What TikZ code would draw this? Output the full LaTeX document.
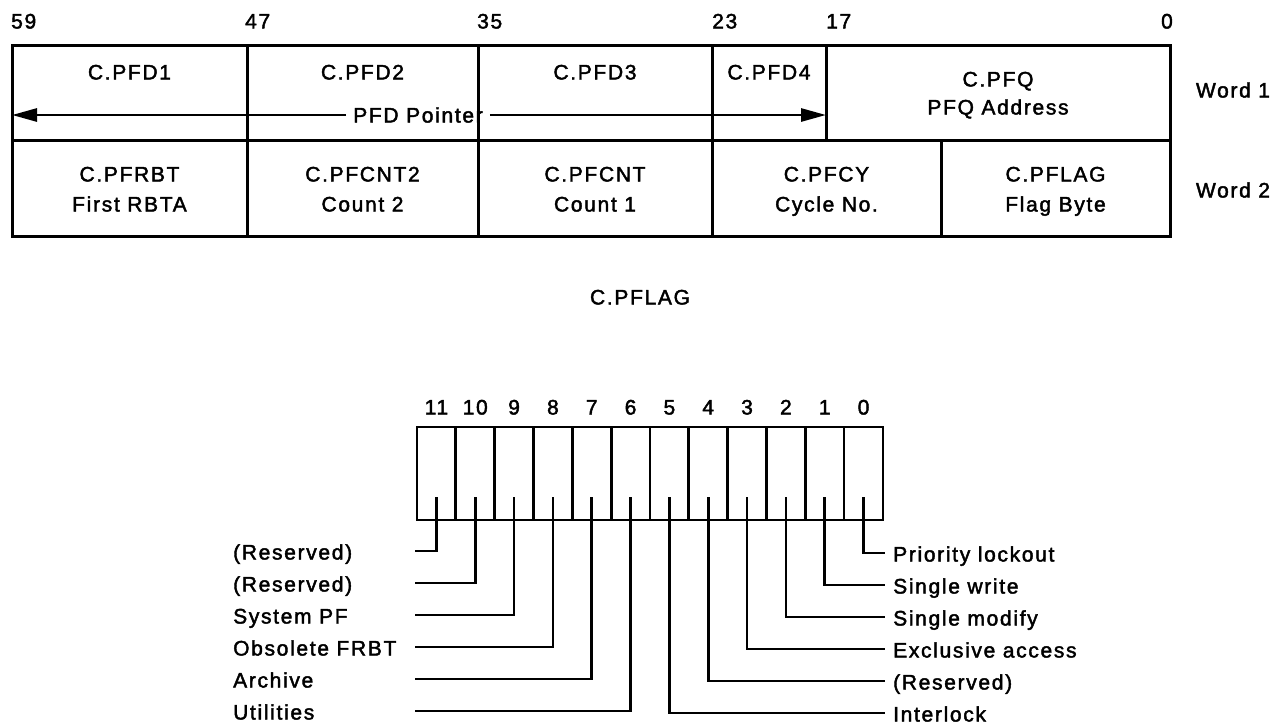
\documentclass[tikz,border=0pt]{standalone}
\usepackage{fontspec}
\setmainfont{Liberation Sans}[LetterSpace=8,FakeBold=2]
\usetikzlibrary{arrows.meta,calc}
\begin{document}
\begin{tikzpicture}[x=1pt,y=-1pt,
  txt/.style={inner sep=0pt, text height=15pt, text depth=0pt, font=\fontsize{21}{25}\selectfont},
  cellbox/.style={draw, line width=3pt, inner sep=0pt},
  bitcell/.style={draw, line width=2.7pt, inner sep=0pt, minimum width=38.83pt, minimum height=93pt},
  conn/.style={line width=2.6pt},
  ptr/.style={line width=2.8pt, -{Triangle[length=25pt,width=13pt]}}
]
\useasboundingbox (0,0) rectangle (1281,724);
% ---- Word 1 cells
\node[cellbox, minimum width=235pt, minimum height=95pt] (d1) at (129.5,92.5) {};
\node[cellbox, minimum width=231pt, minimum height=95pt] (d2) at (362.5,92.5) {};
\node[cellbox, minimum width=234pt, minimum height=95pt] (d3) at (595,92.5) {};
\node[cellbox, minimum width=114pt, minimum height=95pt] (d4) at (769,92.5) {};
\node[cellbox, minimum width=344pt, minimum height=95pt] (pfq) at (998,92.5) {};
% ---- Word 2 cells
\node[cellbox, minimum width=235pt, minimum height=96pt] (w1) at (129.5,188) {};
\node[cellbox, minimum width=231pt, minimum height=96pt] (w2) at (362.5,188) {};
\node[cellbox, minimum width=234pt, minimum height=96pt] (w3) at (595,188) {};
\node[cellbox, minimum width=229pt, minimum height=96pt] (w4) at (826.5,188) {};
\node[cellbox, minimum width=229pt, minimum height=96pt] (w5) at (1055.5,188) {};
% ---- bit numbers
\node[txt, anchor=west] (c59) at (11,21) {59};
\node[txt, anchor=west] (c47) at (245,21) {47};
\node[txt, anchor=west] (c35) at (477,21) {35};
\node[txt, anchor=west] (c23) at (712,21) {23};
\node[txt, anchor=west] (c17) at (826,21) {17};
\node[txt, anchor=east] (c0) at (1173,21) {0};
% ---- texts word 1
\node[txt] (t1) at (d1.center |- 0,72) {C.PFD1};
\node[txt] (t2) at (d2.center |- 0,72) {C.PFD2};
\node[txt] (t3) at (d3.center |- 0,72) {C.PFD3};
\node[txt] (t4) at (d4.center |- 0,72) {C.PFD4};
\node[txt] (tq1) at (pfq.center |- 0,79) {C.PFQ};
\node[txt] (tq2) at (pfq.center |- 0,107) {PFQ Address};
% ---- pointer
\node[txt, inner xsep=7pt] (pp) at (418,115) {PFD Pointer};
\coordinate (pl) at (12,115);
\coordinate (pr) at (826,115);
\draw[ptr] (pp.west) -- (pl);
\draw[ptr] (pp.east) -- (pr);
% ---- texts word 2
\node[txt] at (w1.center |- 0,174) {C.PFRBT};
\node[txt] at (w1.center |- 0,204) {First RBTA};
\node[txt] at (w2.center |- 0,174) {C.PFCNT2};
\node[txt] at (w2.center |- 0,204) {Count 2};
\node[txt] at (w3.center |- 0,174) {C.PFCNT};
\node[txt] at (w3.center |- 0,204) {Count 1};
\node[txt] at (w4.center |- 0,174) {C.PFCY};
\node[txt] at (w4.center |- 0,204) {Cycle No.};
\node[txt] at (w5.center |- 0,174) {C.PFLAG};
\node[txt] at (w5.center |- 0,204) {Flag Byte};
% ---- word labels
\node[txt] (wl1) at (1233,90) {Word 1};
\node[txt] (wl2) at (1233,190) {Word 2};
% ---- C.PFLAG title
\node[txt] (title) at (640,297) {C.PFLAG};
% ---- flag bits
\foreach \k in {0,...,11}{
  \pgfmathtruncatemacro{\bit}{11-\k}
  \node[bitcell] (b\bit) at ({417+38.83*(\k+0.5)},473.5) {};
  \node[txt] (n\bit) at (b\bit.center |- 0,407) {\bit};
  \coordinate (t\bit) at (b\bit.center |- 0,497);
}
% left labels
\foreach \bit/\lab [count=\i from 0] in {11/(Reserved),10/(Reserved),9/System PF,8/Obsolete FRBT,7/Archive,6/Utilities}{
  \coordinate (e\bit) at (415,{551+32*\i});
  \node[txt, anchor=west] (l\bit) at (233,{552+32*\i}) {\lab};
  \draw[conn] (t\bit) |- (e\bit);
}
% right labels
\foreach \bit/\lab [count=\i from 0] in {0/Priority lockout,1/Single write,2/Single modify,3/Exclusive access,4/(Reserved),5/Interlock}{
  \coordinate (e\bit) at (885,{553+32*\i});
  \node[txt, anchor=west] (l\bit) at (893,{554+32*\i}) {\lab};
  \draw[conn] (t\bit) |- (e\bit);
}
\end{tikzpicture}
\end{document}
